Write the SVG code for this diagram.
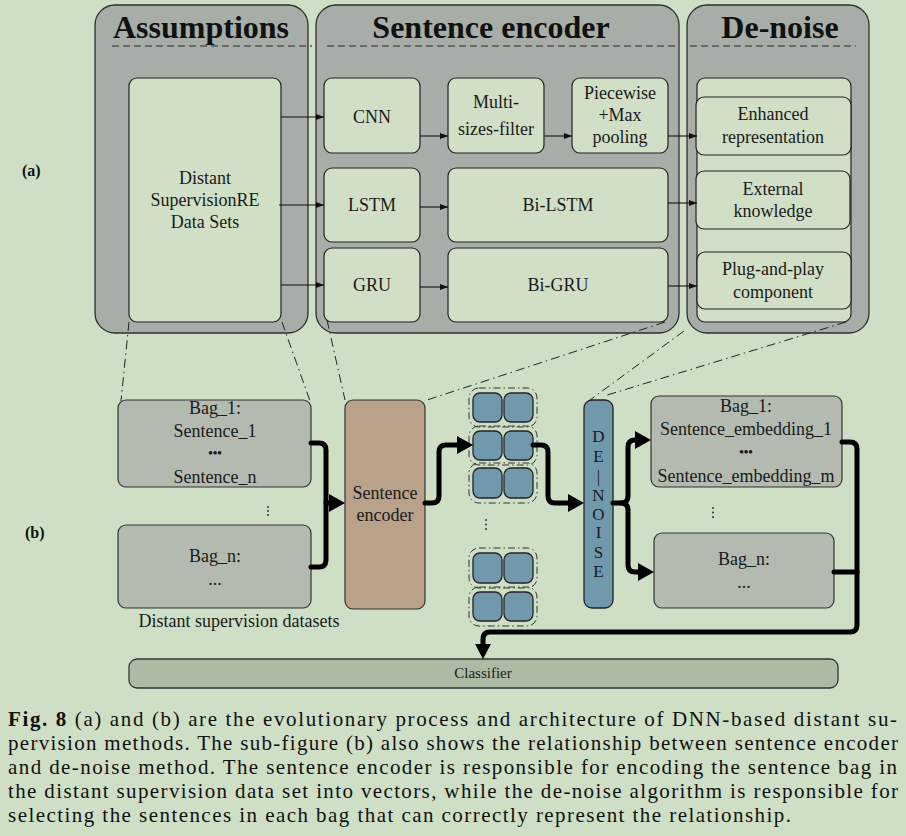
<svg xmlns="http://www.w3.org/2000/svg" width="906" height="836" viewBox="0 0 906 836">
<defs>
<style>
.bg{fill:#cfdfc5}
.panel{fill:#a7aea8;stroke:#2e2e2e;stroke-width:1.3}
.inner{fill:#d0dfc5;stroke:#222;stroke-width:1.2}
.bag{fill:#b3bbb0;stroke:#333;stroke-width:1.2}
.enc{fill:#b9a18a;stroke:#333;stroke-width:1.2}
.blue{fill:#7099ad;stroke:#222;stroke-width:1.3}
.cls{fill:#adbba5;stroke:#333;stroke-width:1.3}
.title{font-family:"Liberation Serif",serif;font-weight:bold;font-size:32px;fill:#111;text-anchor:middle}
.t{font-family:"Liberation Serif",serif;font-size:18px;fill:#1a1a1a;text-anchor:middle}
.lab{font-family:"Liberation Serif",serif;font-weight:bold;font-size:16px;fill:#111}
.cap{font-family:"Liberation Serif",serif;font-size:21px;fill:#111}
.tdash{fill:none;stroke:#555;stroke-width:1.3;stroke-dasharray:7 4}
.dd{fill:none;stroke:#222;stroke-width:1;stroke-dasharray:9 4 1.5 4}
.thin{fill:none;stroke:#111;stroke-width:1.1;marker-end:url(#ah)}
.thick{fill:none;stroke:#000;stroke-width:5;stroke-linecap:round;stroke-linejoin:round}
.head{fill:#000}
.ring{fill:none;stroke:#333;stroke-width:1;stroke-dasharray:7 3 1.5 3}
.vd{fill:#223}
</style>
<marker id="ah" markerWidth="8" markerHeight="6" refX="8" refY="3" orient="auto" markerUnits="userSpaceOnUse">
<path d="M0,0 L8,3 L0,6 Z" fill="#111"/>
</marker>
</defs>
<rect class="bg" x="0" y="0" width="906" height="836"/>

<text class="lab" x="22" y="176">(a)</text>
<text class="lab" x="25" y="538">(b)</text>

<g id="panel-assumptions">
<rect class="panel" x="95" y="5" width="213" height="328" rx="20"/>
<text class="title" x="201" y="38">Assumptions</text>
<line class="tdash" x1="112" y1="46" x2="312" y2="46"/>
</g>
<g id="panel-sentence-encoder">
<rect class="panel" x="316" y="5" width="363" height="328" rx="20"/>
<text class="title" x="491" y="38">Sentence encoder</text>
<line class="tdash" x1="327" y1="46" x2="677" y2="46"/>
</g>
<g id="panel-denoise">
<rect class="panel" x="687" y="5" width="182" height="328" rx="20"/>
<text class="title" x="780" y="38">De-noise</text>
<line class="tdash" x1="690" y1="46" x2="856" y2="46"/>
</g>

<g id="ds-data">
<rect class="inner" x="129" y="78" width="152" height="244" rx="8"/>
<text class="t" x="205" y="184">Distant</text>
<text class="t" x="205" y="206">SupervisionRE</text>
<text class="t" x="205" y="228">Data Sets</text>
</g>
<g id="cnn">
<rect class="inner" x="324" y="78" width="96" height="75" rx="8"/>
<text class="t" x="372" y="123">CNN</text>
</g>
<g id="lstm">
<rect class="inner" x="324" y="168" width="96" height="74" rx="8"/>
<text class="t" x="372" y="211">LSTM</text>
</g>
<g id="gru">
<rect class="inner" x="324" y="248" width="96" height="74" rx="8"/>
<text class="t" x="372" y="291">GRU</text>
</g>
<g id="multi-filter">
<rect class="inner" x="448" y="78" width="96" height="75" rx="8"/>
<text class="t" x="496" y="108">Multi-</text>
<text class="t" x="496" y="135">sizes-filter</text>
</g>
<g id="piecewise">
<rect class="inner" x="572" y="78" width="96" height="75" rx="8"/>
<text class="t" x="620" y="99">Piecewise</text>
<text class="t" x="620" y="121">+Max</text>
<text class="t" x="620" y="143">pooling</text>
</g>
<g id="bilstm">
<rect class="inner" x="448" y="168" width="220" height="74" rx="8"/>
<text class="t" x="558" y="211">Bi-LSTM</text>
</g>
<g id="bigru">
<rect class="inner" x="448" y="248" width="220" height="74" rx="8"/>
<text class="t" x="558" y="291">Bi-GRU</text>
</g>
<g id="denoise-list">
<rect class="inner" x="697" y="78" width="154" height="244" rx="8"/>
</g>
<g id="enhanced">
<rect class="inner" x="696" y="97" width="155" height="58" rx="8"/>
<text class="t" x="773" y="120">Enhanced</text>
<text class="t" x="773" y="143">representation</text>
</g>
<g id="external">
<rect class="inner" x="696" y="171" width="154" height="58" rx="8"/>
<text class="t" x="773" y="195">External</text>
<text class="t" x="773" y="217">knowledge</text>
</g>
<g id="plug">
<rect class="inner" x="697" y="252" width="154" height="57" rx="8"/>
<text class="t" x="773" y="275">Plug-and-play</text>
<text class="t" x="773" y="298">component</text>
</g>

<g id="bag1">
<rect class="bag" x="118" y="400" width="193" height="87" rx="8"/>
<text class="t" x="215" y="414">Bag_1:</text>
<text class="t" x="215" y="437">Sentence_1</text>
<text class="t" x="215" y="457" style="font-size:13px;font-weight:bold">•••</text>
<text class="t" x="215" y="483">Sentence_n</text>
</g>
<g id="bagn">
<rect class="bag" x="118" y="525" width="193" height="83" rx="8"/>
<text class="t" x="215" y="562">Bag_n:</text>
<text class="t" x="215" y="585">...</text>
</g>
<g id="ds-label">
<text class="t" x="239" y="627">Distant supervision datasets</text>
</g>
<g id="encoder">
<rect class="enc" x="345" y="400" width="80" height="209" rx="8"/>
<text class="t" x="385" y="499">Sentence</text>
<text class="t" x="385" y="521">encoder</text>
</g>
<g id="vectors">
<rect class="ring" x="469" y="388" width="68" height="39" rx="10"/>
<rect class="blue" x="473" y="393" width="29" height="29" rx="7"/>
<rect class="blue" x="504" y="393" width="29" height="29" rx="7"/>
<rect class="ring" x="469" y="426" width="68" height="39" rx="10"/>
<rect class="blue" x="473" y="431" width="29" height="29" rx="7"/>
<rect class="blue" x="504" y="431" width="29" height="29" rx="7"/>
<rect class="ring" x="469" y="463" width="68" height="40" rx="10"/>
<rect class="blue" x="473" y="468" width="29" height="30" rx="7"/>
<rect class="blue" x="504" y="468" width="29" height="30" rx="7"/>
<rect class="ring" x="469" y="548" width="68" height="40" rx="10"/>
<rect class="blue" x="473" y="553" width="29" height="30" rx="7"/>
<rect class="blue" x="504" y="553" width="29" height="30" rx="7"/>
<rect class="ring" x="469" y="587" width="68" height="39" rx="10"/>
<rect class="blue" x="473" y="592" width="29" height="29" rx="7"/>
<rect class="blue" x="504" y="592" width="29" height="29" rx="7"/>
<circle class="vd" cx="486" cy="520" r="0.9"/>
<circle class="vd" cx="486" cy="524.5" r="0.9"/>
<circle class="vd" cx="486" cy="529" r="0.9"/>
</g>
<g id="denoise-bar">
<rect class="blue" x="584" y="400" width="29" height="208" rx="8"/>
<g class="t" style="font-size:17px">
<text x="598.5" y="442">D</text>
<text x="598.5" y="462">E</text>
<text x="598.5" y="482">|</text>
<text x="598.5" y="501">N</text>
<text x="598.5" y="520">O</text>
<text x="598.5" y="538">I</text>
<text x="598.5" y="558">S</text>
<text x="598.5" y="577">E</text>
</g>
</g>
<g id="out-bag1">
<rect class="bag" x="651" y="396" width="191" height="91" rx="8"/>
<text class="t" x="746" y="412">Bag_1:</text>
<text class="t" x="746" y="435">Sentence_embedding_1</text>
<text class="t" x="746" y="456" style="font-size:13px;font-weight:bold">•••</text>
<text class="t" x="746" y="482">Sentence_embedding_m</text>
</g>
<g id="out-bagn">
<rect class="bag" x="654" y="533" width="180" height="75" rx="8"/>
<text class="t" x="744" y="565">Bag_n:</text>
<text class="t" x="744" y="588">...</text>
</g>
<g id="dots">
<circle class="vd" cx="268" cy="507" r="0.9"/>
<circle class="vd" cx="268" cy="511" r="0.9"/>
<circle class="vd" cx="268" cy="515" r="0.9"/>
<circle class="vd" cx="713" cy="508" r="0.9"/>
<circle class="vd" cx="713" cy="512.5" r="0.9"/>
<circle class="vd" cx="713" cy="517" r="0.9"/>
</g>
<g id="classifier">
<rect class="cls" x="129" y="659" width="709" height="29" rx="8"/>
<text class="t" x="483" y="678" style="font-size:15px">Classifier</text>
</g>

<g id="connectors">
<line class="thin" x1="281" y1="117" x2="324" y2="117"/>
<line class="thin" x1="279" y1="205" x2="324" y2="205"/>
<line class="thin" x1="281" y1="285" x2="324" y2="285"/>
<line class="thin" x1="420" y1="136" x2="448" y2="136"/>
<line class="thin" x1="544" y1="136" x2="572" y2="136"/>
<line class="thin" x1="668" y1="136" x2="697" y2="136"/>
<line class="thin" x1="420" y1="207" x2="448" y2="207"/>
<line class="thin" x1="668" y1="203" x2="697" y2="203"/>
<line class="thin" x1="420" y1="287" x2="448" y2="287"/>
<line class="thin" x1="668" y1="286" x2="697" y2="286"/>

<line class="dd" x1="129" y1="322" x2="121" y2="401"/>
<line class="dd" x1="282" y1="322" x2="310" y2="401"/>
<line class="dd" x1="327" y1="320" x2="345" y2="400"/>
<line class="dd" x1="665" y1="322" x2="424" y2="401"/>
<line class="dd" x1="684" y1="331" x2="590" y2="400"/>
<line class="dd" x1="846" y1="322" x2="604" y2="396"/>

<path class="thick" d="M311,443 H319 Q326,443 326,450 V503"/>
<path class="thick" d="M311,567 H319 Q326,567 326,560 V503 H332"/>
<polygon class="head" points="329,494 345,503 329,512"/>
<path class="thick" d="M425,503 H432 Q439,503 439,496 V452 Q439,445 446,445 H460"/>
<polygon class="head" points="457,436 473,445 457,454"/>
<path class="thick" d="M533,445 H541 Q548,445 548,452 V496 Q548,503 555,503 H570"/>
<polygon class="head" points="568,494 584,503 568,512"/>
<path class="thick" d="M613,503 H621 Q628,503 628,496 V447 Q628,440 635,440 H638"/>
<polygon class="head" points="635,431 651,440 635,449"/>
<path class="thick" d="M621,503 Q628,503 628,510 V565 Q628,572 635,572 H641"/>
<polygon class="head" points="638,563 654,572 638,581"/>
<path class="thick" d="M842,442 H850 Q857,442 857,449 V625 Q857,632 850,632 H490 Q483,632 483,639 V646"/>
<path class="thick" d="M834,572 H857"/>
<polygon class="head" points="475,644 483,659 491,644"/>
</g>

<g id="caption">
<text class="cap" x="8" y="726" textLength="889" lengthAdjust="spacing"><tspan font-weight="bold">Fig. 8</tspan>  (a) and (b) are the evolutionary process and architecture of DNN-based distant su-</text>
<text class="cap" x="8" y="750" textLength="890" lengthAdjust="spacing">pervision methods. The sub-figure (b) also shows the relationship between sentence encoder</text>
<text class="cap" x="8" y="774" textLength="889" lengthAdjust="spacing">and de-noise method. The sentence encoder is responsible for encoding the sentence bag in</text>
<text class="cap" x="8" y="798" textLength="890" lengthAdjust="spacing">the distant supervision data set into vectors, while the de-noise algorithm is responsible for</text>
<text class="cap" x="8" y="822" textLength="783" lengthAdjust="spacing">selecting the sentences in each bag that can correctly represent the relationship.</text>
</g>
</svg>
